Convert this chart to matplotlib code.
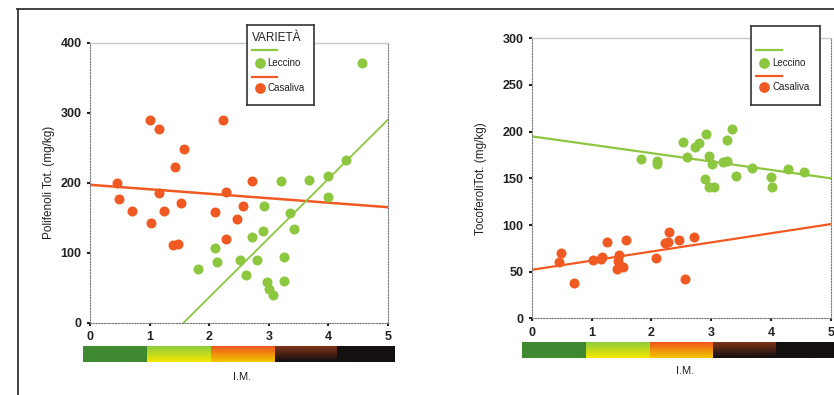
import numpy as np
import matplotlib.pyplot as plt
from matplotlib.lines import Line2D

plt.rcParams['font.family'] = ['Liberation Sans', 'DejaVu Sans']

# Polifenoli totali vs indice di maturazione
poli_casaliva_im = [0.46, 0.49, 0.71, 1.01, 1.15, 1.15, 1.25, 1.53, 1.57, 1.43,
                    2.23, 2.29, 2.09, 2.56, 2.72, 2.46, 1.02, 1.40, 1.47, 2.29]
poli_casaliva = [200, 177, 160, 289, 276, 185, 160, 171, 248, 223,
                 290, 187, 158, 166, 203, 148, 142, 111, 112, 120]
poli_leccino_im = [3.20, 3.68, 3.99, 4.29, 4.57, 4.00, 2.92, 3.35, 3.43, 2.91,
                   2.72, 2.52, 2.80, 3.25, 2.61, 2.97, 3.01, 3.07, 3.26, 2.09,
                   2.13, 1.82]
poli_leccino = [203, 204, 210, 232, 371, 179, 166, 156, 134, 131,
                123, 89, 89, 94, 68, 58, 48, 39, 59, 107,
                87, 77]
# rette di regressione (valori agli estremi)
poli_casaliva_fit = ([0, 5], [197, 165])
poli_leccino_fit = ([1.57, 5], [0, 290])

# Tocoferoli totali vs indice di maturazione
toco_leccino_im = [1.83, 2.09, 2.10, 2.52, 2.60, 2.73, 2.79, 2.92, 2.96, 3.01,
                   2.90, 2.97, 3.05, 3.20, 3.26, 3.26, 3.35, 3.41, 3.68, 4.00,
                   4.01, 4.29, 4.55]
toco_leccino = [171, 169, 165, 189, 173, 184, 188, 198, 174, 165,
                149, 141, 141, 168, 169, 191, 203, 152, 161, 151,
                141, 160, 157]
toco_casaliva_im = [0.49, 0.46, 0.71, 1.02, 1.15, 1.17, 1.26, 1.46, 1.45, 1.42,
                    1.53, 1.58, 2.08, 2.22, 2.29, 2.28, 2.46, 2.71, 2.56]
toco_casaliva = [70, 60, 38, 62, 64, 66, 82, 68, 61, 53,
                 55, 84, 65, 81, 92, 82, 84, 87, 42]
toco_leccino_fit = ([0, 5], [195, 150])
toco_casaliva_fit = ([0, 5], [52, 101])

# scala colori dell'indice di maturazione (bordi, colore sopra, colore sotto)
im_bounds = [0, 0.205, 0.41, 0.615, 0.815, 1.0]
im_top = ['#3f8a30', '#8fcf3c', '#ef5a1c', '#7a3418', '#141010']
im_bottom = ['#3f8a30', '#f4e600', '#f2c400', '#141010', '#141010']

GREEN = '#8dc63f'
ORANGE = '#f05a22'

fig = plt.figure(figsize=(8.34, 3.95), dpi=100)


def style_axes(ax, ymax, yticks):
    ax.set_xlim(0, 5)
    ax.set_ylim(0, ymax)
    ax.set_xticks([0, 1, 2, 3, 4, 5])
    ax.set_yticks(yticks)
    for side in ['left', 'right', 'bottom']:
        ax.spines[side].set_linestyle((0, (1, 1.5)))
        ax.spines[side].set_color('#777777')
        ax.spines[side].set_linewidth(0.8)
    ax.spines['top'].set_color('#c8c8c8')
    ax.spines['top'].set_linewidth(1.0)
    ax.tick_params(length=2, width=1.5, color='#222222', pad=4,
                   labelsize=9, labelcolor='#222222')
    for lab in ax.get_xticklabels() + ax.get_yticklabels():
        lab.set_fontweight('bold')


def scale_bar(rect):
    cax = fig.add_axes(rect)
    cax.set_xlim(0, 1)
    cax.set_ylim(0, 1)
    cax.axis('off')
    n = 12
    for i in range(5):
        c0 = np.array(plt.matplotlib.colors.to_rgb(im_top[i]))
        c1 = np.array(plt.matplotlib.colors.to_rgb(im_bottom[i]))
        img = np.array([c0 + (c1 - c0) * k / (n - 1) for k in range(n)])[:, None, :]
        cax.imshow(img, extent=[im_bounds[i], im_bounds[i + 1], 0, 1],
                   aspect='auto', interpolation='bilinear')


def legend_box(rect, title=None):
    lax = fig.add_axes(rect)
    lax.set_xlim(0, 1)
    lax.set_ylim(0, 1)
    lax.set_xticks([])
    lax.set_yticks([])
    for s in lax.spines.values():
        s.set_color('#333333')
        s.set_linewidth(1.2)
    if title:
        lax.text(0.08, 0.84, title, fontsize=8.5, va='center', color='#222222')
    lax.plot([0.07, 0.45], [0.69, 0.69], color=GREEN, lw=1.6)
    lax.scatter([0.19], [0.53], s=45, color=GREEN)
    lax.text(0.31, 0.53, 'Leccino', fontsize=7, va='center', color='#222222')
    lax.plot([0.07, 0.45], [0.36, 0.36], color=ORANGE, lw=1.6)
    lax.scatter([0.19], [0.22], s=45, color=ORANGE)
    lax.text(0.31, 0.22, 'Casaliva', fontsize=7, va='center', color='#222222')


# pannello sinistro: polifenoli
ax1 = fig.add_axes([0.1079, 0.183, 0.3573, 0.709])
ax1.scatter(poli_casaliva_im, poli_casaliva, s=52, color=ORANGE, zorder=3, linewidths=0)
ax1.scatter(poli_leccino_im, poli_leccino, s=52, color=GREEN, zorder=3, linewidths=0)
ax1.plot(*poli_casaliva_fit, color=ORANGE, lw=1.8, zorder=2)
ax1.plot(*poli_leccino_fit, color=GREEN, lw=1.3, zorder=2)
style_axes(ax1, 400, [0, 100, 200, 300, 400])
ax1.set_ylabel('Polifenoli Tot. (mg/kg)', fontsize=8.5, labelpad=4, color='#222222')

# pannello destro: tocoferoli
ax2 = fig.add_axes([0.6375, 0.194, 0.3589, 0.709])
ax2.scatter(toco_leccino_im, toco_leccino, s=52, color=GREEN, zorder=3, linewidths=0)
ax2.scatter(toco_casaliva_im, toco_casaliva, s=52, color=ORANGE, zorder=3, linewidths=0)
ax2.plot(*toco_leccino_fit, color=GREEN, lw=1.6, zorder=2)
ax2.plot(*toco_casaliva_fit, color=ORANGE, lw=1.6, zorder=2)
style_axes(ax2, 300, [0, 50, 100, 150, 200, 250, 300])
ax2.set_ylabel('TocoferoliTot. (mg/kg)', fontsize=8.5, labelpad=11, color='#222222')

# barre dell'indice di maturazione
scale_bar([0.0995, 0.0843, 0.374, 0.0405])
scale_bar([0.6255, 0.0937, 0.374, 0.0405])
fig.text(0.290, 0.045, 'I.M.', fontsize=8, ha='center', va='center', color='#222222')
fig.text(0.821, 0.061, 'I.M.', fontsize=8, ha='center', va='center', color='#222222')

legend_box([0.296, 0.733, 0.080, 0.203], title='VARIETÀ')
legend_box([0.901, 0.735, 0.082, 0.200])

# cornice della figura
fig.add_artist(Line2D([0.020, 1.0], [0.977, 0.977], color='#333333', lw=1.3))
fig.add_artist(Line2D([0.0215, 0.0215], [0.0, 0.977], color='#333333', lw=1.3))

fig.savefig('out.png', dpi=100)
